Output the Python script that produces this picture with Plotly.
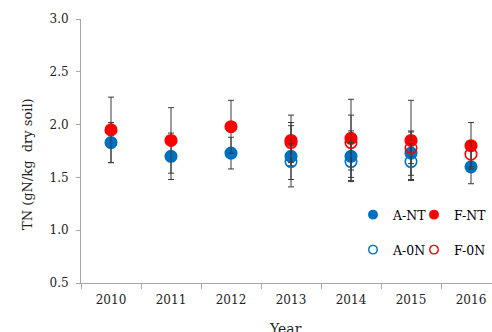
import plotly.graph_objects as go

# Total nitrogen in soil, 2010-2016
years = ["2010", "2011", "2012", "2013", "2014", "2015", "2016"]

a_nt = [1.83, 1.70, 1.73, 1.70, 1.70, 1.73, 1.60]
a_nt_err = [0.19, 0.22, 0.15, 0.29, 0.24, 0.21, 0.16]

f_nt = [1.95, 1.85, 1.98, 1.85, 1.87, 1.85, 1.80]
f_nt_err = [0.31, 0.31, 0.25, 0.24, 0.37, 0.38, 0.22]

a_0n = [None, None, None, 1.65, 1.65, 1.65, None]
a_0n_err = [0, 0, 0, 0.17, 0.18, 0.17, 0]

f_0n = [None, None, None, 1.83, 1.83, 1.78, 1.72]
f_0n_err = [0, 0, 0, 0.19, 0.26, 0.15, 0.12]

BLUE = "#0070C0"
RED = "#FF0000"
BAR = "#3a3a3a"
AXIS = "#a6a6a6"
FONT = "DejaVu Serif"

series = [
    ("A-NT", a_nt, a_nt_err, BLUE, "circle", "legend"),
    ("F-NT", f_nt, f_nt_err, RED, "circle", "legend2"),
    ("A-0N", a_0n, a_0n_err, BLUE, "circle-open", "legend3"),
    ("F-0N", f_0n, f_0n_err, RED, "circle-open", "legend4"),
]

fig = go.Figure()
for name, vals, errs, color, symbol, leg in series:
    fig.add_trace(go.Scatter(
        x=years, y=vals, mode="markers", name=name, showlegend=False,
        marker=dict(color=color, size=11.5, symbol=symbol,
                    line=dict(color=color, width=1.6)),
        error_y=dict(type="data", array=errs, visible=True,
                     color=BAR, thickness=1, width=3),
    ))
    # legend entry with a smaller symbol
    fig.add_trace(go.Scatter(
        x=[None], y=[None], mode="markers", name=name, legend=leg,
        marker=dict(color=color, size=8.5, symbol=symbol,
                    line=dict(color=color, width=1.4)),
    ))

W, H = 492, 332
L, T, B = 81, 19, 49
plot_w = 411
plot_h = H - T - B


def px_x(px):
    return (px - L) / plot_w


def px_y(py):
    return (H - B - py) / plot_h


leg_font = dict(family=FONT, size=12.5, color="#000")
leg_pos = {
    "legend": (353, 215),
    "legend2": (414, 215),
    "legend3": (353, 250),
    "legend4": (414, 250),
}
legends = {}
for key, (lx, ly) in leg_pos.items():
    legends[key] = dict(x=px_x(lx), y=px_y(ly), xanchor="left", yanchor="middle",
                        bgcolor="rgba(0,0,0,0)", borderwidth=0, font=leg_font,
                        itemwidth=30, tracegroupgap=0)

fig.update_layout(
    width=W, height=H,
    margin=dict(l=L, r=0, t=T, b=B, pad=0),
    paper_bgcolor="white", plot_bgcolor="white",
    font=dict(family=FONT, size=12, color="#222"),
    xaxis=dict(
        type="category", range=[-0.5, 6.35], tickson="boundaries",
        showline=True, linecolor=AXIS, linewidth=1,
        ticks="outside", ticklen=5, tickcolor=AXIS, tickwidth=1,
        showgrid=False, zeroline=False, ticklabelstandoff=6,
        tickfont=dict(family=FONT, size=12, color="#222"),
    ),
    yaxis=dict(
        range=[0.5, 3.0], dtick=0.5, tick0=0.5, tickformat=".1f",
        showline=True, linecolor=AXIS, linewidth=1,
        ticks="outside", ticklen=4, tickcolor=AXIS, tickwidth=1,
        showgrid=False, zeroline=False, ticklabelstandoff=5,
        tickfont=dict(family=FONT, size=12, color="#222"),
    ),
    annotations=[
        dict(text="TN (gN/kg  dry soil)", textangle=-90, showarrow=False,
             xref="paper", yref="paper", x=px_x(27), y=px_y(164),
             xanchor="center", yanchor="middle",
             font=dict(family=FONT, size=13, color="#222")),
        dict(text="Year", showarrow=False,
             xref="paper", yref="paper", x=px_x(285), y=px_y(319),
             xanchor="center", yanchor="top",
             font=dict(family=FONT, size=14, color="#222")),
    ],
    **legends,
)

fig.write_html("out.html")
